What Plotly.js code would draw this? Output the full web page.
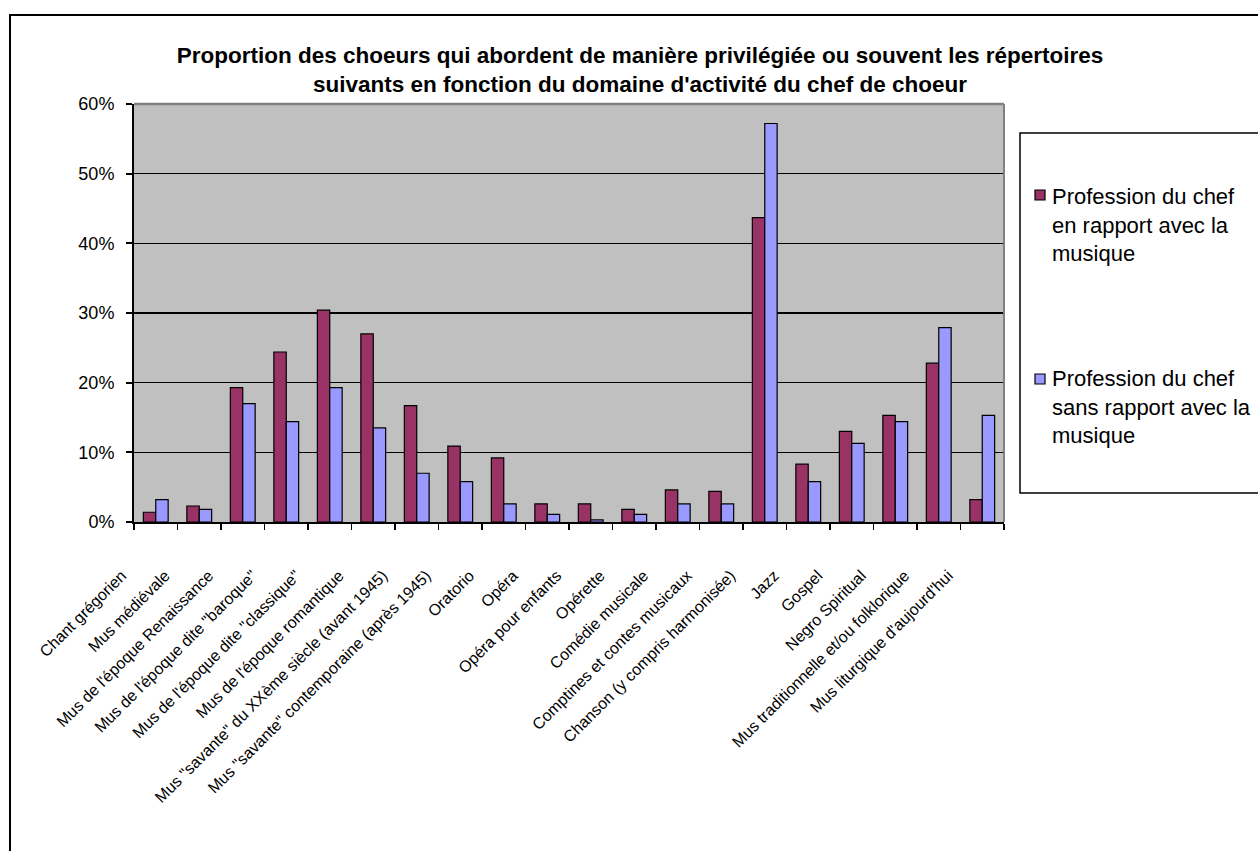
<!DOCTYPE html>
<html>
<head>
<meta charset="utf-8">
<script src="https://cdn.plot.ly/plotly-3.0.1.min.js"></script>
<style>html,body{margin:0;padding:0;background:#fff;overflow:hidden;}#chart{width:1258px;height:851px;}</style>
</head>
<body>
<div id="chart"></div>
<script>
const categories = [
  "Chant grégorien",
  "Mus médiévale",
  "Mus de l'époque Renaissance",
  "Mus de l'époque dite \"baroque\"",
  "Mus de l'époque dite \"classique\"",
  "Mus de l'époque romantique",
  "Mus \"savante\" du XXème siècle (avant 1945)",
  "Mus \"savante\" contemporaine (après 1945)",
  "Oratorio",
  "Opéra",
  "Opéra pour enfants",
  "Opérette",
  "Comédie musicale",
  "Comptines et contes musicaux",
  "Chanson (y compris harmonisée)",
  "Jazz",
  "Gospel",
  "Negro Spiritual",
  "Mus traditionnelle et/ou folklorique",
  "Mus liturgique d'aujourd'hui"
];
const seriesNames = [
  "Profession du chef<br>en rapport avec la<br>musique",
  "Profession du chef<br>sans rapport avec la<br>musique"
];
const seriesColors = ['#993366', '#9999FF'];
const enRapport = [0.014, 0.023, 0.193, 0.244, 0.304, 0.270, 0.167, 0.109, 0.092, 0.026,
                   0.026, 0.018, 0.046, 0.044, 0.437, 0.083, 0.130, 0.153, 0.228, 0.032];
const sansRapport = [0.032, 0.018, 0.170, 0.144, 0.193, 0.135, 0.070, 0.058, 0.026, 0.011,
                     0.003, 0.011, 0.026, 0.026, 0.572, 0.058, 0.113, 0.144, 0.279, 0.153];
const yTickVals = [0, 0.1, 0.2, 0.3, 0.4, 0.5, 0.6];
const yTickText = ["0%", "10%", "20%", "30%", "40%", "50%", "60%"];
const titleText = "<b>Proportion des choeurs qui abordent de manière privilégiée ou souvent les répertoires<br>suivants en fonction du domaine d'activité du chef de choeur</b>";

const FONT = "Liberation Sans, Arial, sans-serif";

// plot area in pixels
const ML = 134, MR = 254, MT = 104, MB = 329, W = 1258, H = 851;
const PW = W - ML - MR, PH = H - MT - MB;
const px = v => (v - ML) / PW;
const py = v => (H - MB - v) / PH;

const traces = [
  {type:'bar', x:categories, y:enRapport, name:seriesNames[0],
   marker:{color:seriesColors[0], line:{color:'#000', width:1.2}}},
  {type:'bar', x:categories, y:sansRapport, name:seriesNames[1],
   marker:{color:seriesColors[1], line:{color:'#000', width:1.2}}}
];

// legend drawn by hand (box, swatches, labels) so it can run off the right edge like the original
const legendSwatchTop = [190, 374];
const legendTextMid = [225, 407];
const legendShapes = [];
const legendAnnots = [];
for (let i = 0; i < seriesNames.length; i++) {
  legendShapes.push({type:'rect', xref:'paper', yref:'paper',
    x0:px(1035), x1:px(1045), y0:py(legendSwatchTop[i] + 10), y1:py(legendSwatchTop[i]),
    fillcolor:seriesColors[i], line:{color:'#000', width:1.2}, layer:'above'});
  legendAnnots.push({xref:'paper', yref:'paper', x:px(1050), y:py(legendTextMid[i]),
    xanchor:'left', yanchor:'middle', align:'left', showarrow:false,
    text:seriesNames[i], font:{family:FONT, size:22, color:'#000'}});
}

const layout = {
  width:W, height:H,
  margin:{l:ML, r:MR, t:MT, b:MB, pad:0},
  paper_bgcolor:'#ffffff',
  plot_bgcolor:'#C0C0C0',
  font:{family:FONT, color:'#000'},
  barmode:'group', bargap:0.43, bargroupgap:0,
  showlegend:false,
  title:{text:titleText, font:{family:FONT, size:22.5, color:'#000'},
         x:640/W, xref:'container', xanchor:'center',
         y:1-63/H, yref:'container', yanchor:'top'},
  xaxis:{type:'category', categoryorder:'array', categoryarray:categories,
         showline:true, linecolor:'#000', linewidth:2,
         ticks:'outside', tickson:'boundaries', ticklen:6, tickwidth:1.5, tickcolor:'#000',
         tickangle:-45, tickfont:{family:FONT, size:16, color:'#000'},
         ticklabelstandoff:36, ticklabelshift:-34,
         showgrid:false, automargin:false, fixedrange:true},
  yaxis:{range:[0,0.6], tickvals:yTickVals, ticktext:yTickText,
         showline:true, linecolor:'#000', linewidth:2,
         ticks:'outside', ticklen:6, tickwidth:2, tickcolor:'#000',
         ticklabelstandoff:8,
         tickfont:{family:FONT, size:18, color:'#000'},
         showgrid:true, gridcolor:'#000', gridwidth:1.5, zeroline:false,
         automargin:false, fixedrange:true},
  annotations:legendAnnots,
  shapes:[
    {type:'rect', xref:'paper', yref:'paper', x0:px(10), x1:px(1275),
     y0:py(870), y1:py(15), line:{color:'#000', width:2}, fillcolor:'rgba(0,0,0,0)', layer:'below'},
    {type:'line', xref:'paper', yref:'paper', x0:0, x1:1, y0:1, y1:1,
     line:{color:'#808080', width:2.5}, layer:'above'},
    {type:'line', xref:'paper', yref:'paper', x0:1, x1:1, y0:0, y1:1,
     line:{color:'#808080', width:2}, layer:'above'},
    {type:'rect', xref:'paper', yref:'paper', x0:px(1020), x1:px(1275),
     y0:py(493), y1:py(133), line:{color:'#000', width:1.5}, fillcolor:'rgba(0,0,0,0)', layer:'above'}
  ].concat(legendShapes)
};

Plotly.newPlot('chart', traces, layout, {displayModeBar:false, staticPlot:true});
</script>
</body>
</html>
